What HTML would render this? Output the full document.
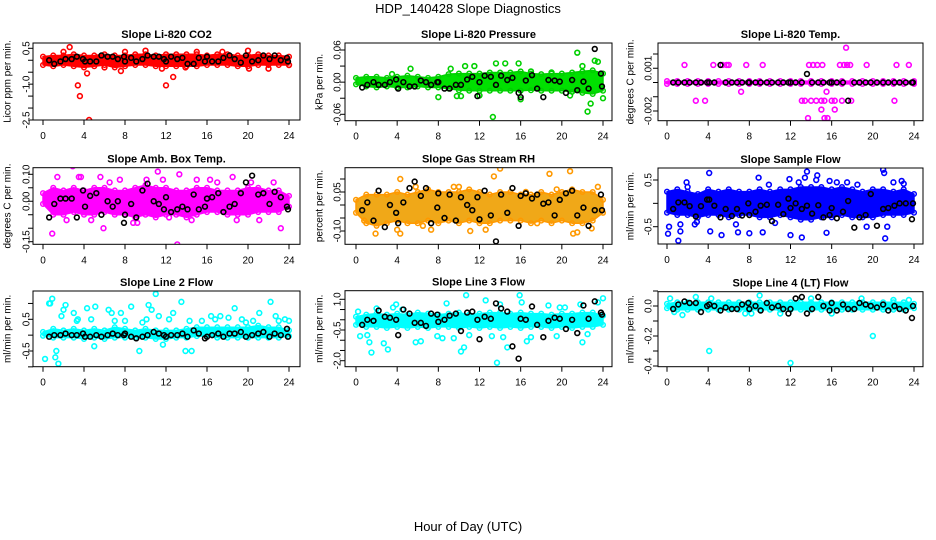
<!DOCTYPE html>
<html><head><meta charset="utf-8"><style>
body{margin:0;background:#fff;}
svg{display:block;font-family:"Liberation Sans",sans-serif;}
</style></head><body>
<svg id="c" width="936" height="540">
<text x="468" y="13" text-anchor="middle" font-size="13">HDP_140428  Slope Diagnostics</text>
<text x="468" y="531" text-anchor="middle" font-size="13">Hour of Day (UTC)</text>
</svg>
<script>
const xTicks=[0,4,8,12,16,20,24];
const bandX=[0,1,2,3,4,5,6,7,8,9,10,11,12,13,14,15,16,17,18,19,20,21,22,23,24];
const blackX=[0.6,1.1,1.7,2.2,2.8,3.3,3.9,4.1,4.6,5.2,5.7,6.3,6.8,7.3,7.9,8.0,8.6,9.1,9.7,10.2,10.8,11.3,11.8,12.0,12.5,13.1,13.6,14.1,14.7,15.2,15.8,16.0,16.5,17.1,17.6,18.2,18.7,19.3,19.8,20.4,21.0,21.5,22.1,22.6,23.2,23.8,23.9];

// CO2
const co2Hi=[0.15,0.2,0.2,0.25,0.2,0.2,0.25,0.2,0.2,0.25,0.25,0.2,0.25,0.25,0.25,0.25,0.2,0.25,0.25,0.2,0.2,0.25,0.2,0.2,0.15];
const co2Lo=[-0.2,-0.25,-0.2,-0.25,-0.3,-0.25,-0.2,-0.3,-0.25,-0.2,-0.2,-0.25,-0.25,-0.25,-0.25,-0.25,-0.2,-0.2,-0.2,-0.25,-0.25,-0.2,-0.2,-0.2,-0.2];
const co2OutX=[2.6,2.0,3.4,3.6,4.3,4.5,12.0,12.7,11.6,7.6,6.0,20.0,20.1,22.0,13.9,8.0,10.0,15.0,17.5,24.0];
const co2OutY=[0.55,0.35,-1.05,-1.5,-0.55,-2.5,-1.05,-0.7,-0.35,-0.45,-0.3,0.4,-0.35,-0.35,-0.3,0.35,0.4,0.35,0.35,-0.2];
const co2Black=[0,-0.15,-0.05,0.05,0.05,0.15,0.05,-0.05,-0.05,-0.05,0.2,0.15,0.15,0.05,0.15,-0.05,0.1,-0.05,0.05,0.2,0.15,0.15,0.05,-0.05,0.15,0.05,0.1,-0.15,-0.15,0.1,-0.05,0.15,-0.05,-0.05,0.1,0.2,0.05,-0.1,0.2,-0.05,0.0,0.2,0.05,0.2,0.0,0.1,-0.05];
// Pressure
const prHi=[0.008,0.01,0.01,0.008,0.01,0.012,0.01,0.008,0.01,0.015,0.016,0.016,0.016,0.018,0.018,0.018,0.02,0.016,0.015,0.016,0.016,0.018,0.02,0.022,0.016];
const prLo=[-0.004,-0.008,-0.01,-0.008,-0.01,-0.01,-0.008,-0.01,-0.01,-0.012,-0.015,-0.016,-0.016,-0.016,-0.016,-0.016,-0.016,-0.015,-0.016,-0.016,-0.016,-0.018,-0.02,-0.022,-0.016];
const prOutX=[21.5,22.5,22.8,13.3,8.0,9.2,10.6,14.5,15.8,23.2,23.5,24.0,16.0,10.2,5.3,3.5,11.5,12.0,17.0,19.0,20.8,22.0,9.8,13.6];
const prOutY=[0.055,-0.055,-0.04,-0.065,-0.028,0.025,0.03,0.035,0.035,0.04,0.038,-0.03,-0.032,-0.026,0.025,0.015,0.03,-0.025,0.02,0.018,-0.025,0.03,-0.026,0.035];
const prBlack=[-0.01,-0.005,0,-0.005,-0.005,0,0.005,-0.012,0,-0.008,-0.008,0.003,0,-0.005,0,0,-0.012,-0.012,-0.005,-0.005,0.005,0.01,-0.026,0,0.012,0.01,-0.005,0.012,0.004,0.008,-0.02,-0.028,0.003,0.013,-0.012,-0.028,0.004,0.003,0.001,-0.02,0.004,-0.015,0.001,-0.012,0.062,0.016,-0.008];
// Temp
const tpHi=[0.0001,0.0001,0.0001,0.0001,0.0001,0.0001,0.0001,0.0001,0.0001,0.0001,0.0001,0.0001,0.0001,0.0001,0.0001,0.0001,0.0001,0.0001,0.0001,0.0001,0.0001,0.0001,0.0001,0.0001,0.0001];
const tpLo=[-0.0001,-0.0001,-0.0001,-0.0001,-0.0001,-0.0001,-0.0001,-0.0001,-0.0001,-0.0001,-0.0001,-0.0001,-0.0001,-0.0001,-0.0001,-0.0001,-0.0001,-0.0001,-0.0001,-0.0001,-0.0001,-0.0001,-0.0001,-0.0001,-0.0001];
const tpOutX=[1.7,4.5,5.4,5.8,6.0,7.7,9.3,13.8,14.2,14.6,15.1,16.8,17.2,17.5,17.8,19.4,22.3,23.5,17.4,7.2,15.5,2.8,3.7,13.1,13.4,14.0,14.5,15.0,15.3,16.0,16.3,17.0,17.9,22.1,15.0,16.3,13.7,15.3,15.6];
const tpOutY=[0.00123,0.00123,0.00123,0.00123,0.00123,0.00123,0.00123,0.00123,0.00123,0.00123,0.00123,0.00123,0.00123,0.00123,0.00123,0.00123,0.00123,0.00123,0.00244,-0.00065,-0.00065,-0.00128,-0.00128,-0.00128,-0.00128,-0.00128,-0.00128,-0.00128,-0.00128,-0.00128,-0.00128,-0.00128,-0.00128,-0.00128,-0.0019,-0.0019,-0.0025,-0.0025,-0.0025];
const tpBlack=[0,0,0,0,0,0,0,0,0,0.00123,0,0,0,0,0,0,0,0,0,0,0,0,0,0,0,0,0.0006,0,0,0,0,0,0,0,-0.00128,0,0,0,0,0,0,0,0,0,0,0,0];
// Amb temp
const amHi=[0.03,0.05,0.04,0.05,0.04,0.05,0.05,0.04,0.04,0.05,0.06,0.05,0.05,0.04,0.04,0.05,0.05,0.04,0.04,0.04,0.05,0.05,0.04,0.04,0.02];
const amLo=[-0.01,-0.05,-0.05,-0.04,-0.05,-0.05,-0.04,-0.05,-0.05,-0.06,-0.05,-0.06,-0.05,-0.05,-0.06,-0.05,-0.04,-0.04,-0.05,-0.05,-0.05,-0.04,-0.04,-0.04,-0.02];
const amOutX=[0.9,1.4,2.9,3.5,3.7,5.6,5.9,8.8,9.2,11.2,11.7,13.1,13.3,15.0,18.5,18.9,22.5,23.2,4.7,7.5,10.1,12.3,14.5,16.3,20.3,21.1,2.3,6.5,17.0];
const amOutY=[-0.12,0.09,0.13,0.09,0.09,0.09,-0.1,-0.08,-0.08,0.11,0.08,-0.16,0.1,0.08,0.09,-0.07,0.07,-0.10,-0.07,0.08,0.08,-0.06,-0.07,0.08,0.07,-0.07,-0.07,0.07,0.07];
const amBlack=[-0.06,-0.01,0.01,0.01,0.01,-0.06,0.04,-0.02,0.02,0.03,-0.05,0.0,-0.02,0.0,-0.08,-0.05,-0.01,-0.06,0.04,0.065,0.0,-0.01,-0.03,0.015,-0.04,-0.03,-0.02,-0.03,0.025,-0.03,-0.02,0.01,0.015,0.03,-0.04,-0.02,-0.01,0.03,0.07,0.095,0.025,0.03,-0.01,0.035,0.015,-0.02,-0.03];
// RH
const rhHi=[0.02,0.04,0.04,0.04,0.05,0.04,0.05,0.06,0.05,0.05,0.05,0.06,0.05,0.04,0.05,0.05,0.04,0.04,0.05,0.04,0.05,0.06,0.05,0.05,0.02];
const rhLo=[-0.03,-0.07,-0.08,-0.07,-0.06,-0.07,-0.07,-0.06,-0.07,-0.06,-0.07,-0.06,-0.07,-0.07,-0.06,-0.06,-0.06,-0.07,-0.06,-0.07,-0.06,-0.07,-0.07,-0.06,-0.03];
const rhOutX=[1.9,4.0,4.3,5.8,7.3,11.1,12.6,13.4,14.0,17.6,18.8,20.8,21.1,21.5,22.9,4.3,6.5,9.5,16.5,19.5,23.5,0.8,10.0];
const rhOutY=[-0.11,-0.095,-0.11,0.07,-0.095,-0.10,-0.095,0.11,0.14,-0.07,0.12,0.13,-0.11,-0.105,-0.09,0.1,-0.08,0.07,0.05,0.06,0.07,-0.06,0.07];
const rhBlack=[-0.02,0.01,-0.06,0.055,-0.085,0,-0.03,-0.07,0.01,0.065,0.09,0.035,0.065,-0.07,-0.01,0.045,-0.05,0.04,-0.06,0.03,0.0,-0.02,0.03,-0.055,0.055,-0.04,-0.14,0.04,-0.03,0.065,-0.08,0.035,0.045,0.025,0.04,0.005,0.01,-0.04,0.02,0.045,0.055,-0.04,-0.01,-0.08,-0.02,0.04,-0.02];
// Sample flow
const sfHi=[0.25,0.3,0.25,0.2,0.3,0.25,0.3,0.25,0.25,0.3,0.25,0.3,0.3,0.35,0.35,0.35,0.3,0.35,0.3,0.25,0.3,0.3,0.25,0.3,0.2];
const sfLo=[-0.2,-0.25,-0.25,-0.3,-0.25,-0.25,-0.3,-0.25,-0.25,-0.3,-0.3,-0.25,-0.3,-0.35,-0.35,-0.3,-0.3,-0.25,-0.3,-0.3,-0.3,-0.25,-0.25,-0.25,-0.2];
const sfOutX=[0.1,0.2,1.1,1.3,1.3,1.9,2.7,2.9,4.1,4.2,5.3,6.9,8.0,8.9,9.3,11.9,12.0,13.1,13.4,13.6,14.6,15.5,15.8,17.5,19.4,21.0,21.1,21.2,21.4,22.0,22.8,12.8,14.5,10.5,16.5,23.0,2.0,9.9,6.7,18.5];
const sfOutY=[-0.65,-0.5,-0.8,-0.45,-0.6,0.45,-0.45,-0.4,0.65,-0.6,-0.68,-0.62,-0.64,0.55,-0.62,0.52,-0.68,-0.73,0.55,0.68,0.6,-0.63,0.48,0.45,-0.5,0.72,0.65,-0.75,-0.5,0.45,0.48,0.45,0.5,-0.42,0.45,0.42,0.35,0.4,-0.45,0.4];
const sfBlack=[-0.12,0.02,0.02,-0.06,-0.28,-0.06,0.08,0.08,-0.05,-0.3,-0.12,-0.27,-0.12,-0.26,0.0,-0.25,-0.18,-0.05,-0.03,-0.38,-0.03,-0.23,0.1,-0.1,0.0,-0.12,-0.05,-0.22,-0.04,-0.3,-0.25,-0.1,-0.32,-0.18,0.05,-0.52,-0.3,-0.25,0.2,-0.48,-0.12,-0.1,-0.05,0.0,0.0,-0.34,0.0];
// Line 2 flow
const l2Hi=[0.1,0.2,0.15,0.2,0.15,0.2,0.15,0.25,0.2,0.15,0.2,0.15,0.15,0.15,0.2,0.25,0.25,0.25,0.25,0.25,0.25,0.3,0.25,0.25,0.15];
const l2Lo=[-0.02,-0.08,-0.08,-0.08,-0.12,-0.08,-0.12,-0.08,-0.08,-0.08,-0.08,-0.12,-0.12,-0.08,-0.08,-0.03,-0.03,-0.08,-0.08,-0.08,-0.08,-0.08,-0.08,-0.08,-0.03];
const l2OutX=[0.2,0.7,0.9,1.2,1.3,1.5,2.0,2.2,3.0,3.4,4.3,5.1,6.7,7.6,8.6,9.4,10.3,11.0,11.3,11.7,13.5,13.9,14.5,16.4,17.3,18.7,19.4,21.1,22.2,23.6,24.0,3.3,5.0,6.4,7.0,8.0,9.7,12.3,12.7,15.5,16.8,18.1,19.8,20.5,22.7,23.0,1.8,4.7,10.6,14.3,0.6,10.1];
const l2OutY=[-0.75,1.0,1.15,-0.7,-0.5,-0.9,0.8,0.95,0.7,0.5,0.85,0.9,0.7,0.7,0.9,-0.5,0.95,1.3,0.6,-0.3,1.05,-0.5,-0.5,0.6,0.6,0.85,0.5,0.7,1.05,0.5,0.45,0.45,-0.35,0.8,0.45,0.45,0.4,0.5,0.7,0.45,0.5,0.55,0.4,0.45,0.6,0.45,0.6,0.5,0.8,0.45,1.0,0.5];
const l2Black=[-0.05,0.0,0.0,0.05,0.0,0.0,0.05,-0.05,-0.05,0.0,-0.05,0.0,0.05,0.0,0.0,0.05,-0.05,-0.1,-0.05,0.0,0.1,0.05,0.0,-0.05,0.0,0.0,0.05,-0.05,0.15,0.05,-0.1,-0.05,0.0,0.05,-0.05,0.05,0.05,0.1,-0.05,0.0,0.05,0.1,-0.05,0.05,0.0,0.2,-0.05];
// Line 3 flow
const l3Hi=[0.15,0.25,0.3,0.25,0.3,0.25,0.35,0.3,0.25,0.3,0.35,0.25,0.3,0.35,0.35,0.3,0.35,0.3,0.3,0.25,0.3,0.3,0.35,0.35,0.2];
const l3Lo=[-0.25,-0.35,-0.35,-0.4,-0.35,-0.4,-0.35,-0.4,-0.35,-0.35,-0.4,-0.35,-0.4,-0.35,-0.4,-0.35,-0.4,-0.35,-0.35,-0.4,-0.35,-0.4,-0.35,-0.35,-0.25];
const l3OutX=[0.4,1.1,1.3,1.5,2.7,3.1,3.6,3.9,7.9,8.8,9.5,10.2,10.5,10.7,12.6,13.2,13.7,14.0,14.3,14.7,15.9,16.1,16.6,18.7,19.8,21.8,22.0,23.5,24.0,5.8,6.3,8.4,11.0,17.0,19.5,0.2,2.0,4.5,20.3,22.5];
const l3OutY=[-0.8,-0.75,-1.1,-1.6,-1.15,-1.45,0.6,0.75,-0.8,0.8,-0.9,-1.55,-1.35,1.2,0.95,-0.8,-2.1,0.75,-0.85,-1.35,1.2,0.85,-1.05,0.7,0.6,0.75,-1.1,0.85,1.05,-1.1,-1.05,-0.9,-0.75,-0.85,-0.8,0.4,0.55,0.5,0.6,-0.7];
const l3Black=[-0.25,0.0,-0.05,0.45,0.15,0.1,0.0,-0.75,0.5,0.3,-0.15,-0.15,-0.3,0.3,0.25,-0.1,0.0,0.2,0.3,-0.55,0.35,0.4,0.0,-0.95,0.15,0.05,0.8,0.55,0.4,-1.3,-1.9,0.05,0.0,0.65,-0.25,-0.85,-0.05,0.1,0.05,-0.45,0.0,-0.65,0.7,0.05,0.9,0.35,0.25];
// Line 4 flow
const l4Hi=[0.015,0.025,0.025,0.025,0.025,0.025,0.025,0.025,0.025,0.025,0.025,0.025,0.025,0.025,0.025,0.025,0.025,0.025,0.025,0.025,0.025,0.025,0.025,0.025,0.015];
const l4Lo=[-0.015,-0.025,-0.025,-0.025,-0.025,-0.025,-0.025,-0.025,-0.025,-0.025,-0.025,-0.025,-0.025,-0.025,-0.025,-0.025,-0.025,-0.025,-0.025,-0.025,-0.025,-0.025,-0.025,-0.025,-0.015];
const l4OutX=[0.3,0.7,1.5,2.8,4.1,4.3,7.6,8.2,9.0,11.0,12.0,20.0,18.9,16.0,14.0,22.0,23.5];
const l4OutY=[0.05,-0.04,-0.06,0.06,-0.3,0.05,-0.05,-0.05,0.07,-0.05,-0.38,-0.2,0.05,-0.05,0.05,0.04,0.04];
const l4Black=[-0.02,0.01,0.03,0.02,0.02,-0.04,0.0,0.01,0.0,-0.03,-0.01,-0.02,-0.02,0.01,0.02,-0.02,0.0,-0.03,0.02,-0.01,0.0,-0.02,-0.05,-0.02,0.05,0.06,-0.05,-0.02,0.06,0.0,-0.03,0.02,-0.03,0.01,-0.02,-0.02,0.02,0.01,0.0,-0.01,0.01,-0.03,0.0,-0.02,-0.03,-0.08,0.0];

const panels=[
 {name:'co2',title:'Slope Li-820 CO2',ylab:'Licor ppm per min.',col:'#ff0000',fill:'#ff0000',hi:co2Hi,lo:co2Lo,ox:co2OutX,oy:co2OutY,by:co2Black,
  box:[33,43,300,120],x0:43,x1:289,ticks:[0.5,0,-0.5,-1,-1.5,-2,-2.5],labels:{'0.5':'0.5','-1':'-1.0','-2.5':'-2.5'},ya:0.5,yapx:48.3,yb:-2.5,ybpx:120,ylx:8,ytx:27},
 {name:'pressure',title:'Slope Li-820 Pressure',ylab:'kPa per min.',col:'#00d000',fill:'#00e000',hi:prHi,lo:prLo,ox:prOutX,oy:prOutY,by:prBlack,
  box:[345,43,612,120.7],x0:356,x1:603,ticks:[0.06,0.03,0,-0.03,-0.06],labels:{'0.06':'0.06','0':'0.00','-0.06':'-0.06'},ya:0.06,yapx:50,yb:-0.06,ybpx:114.3,ylx:320,ytx:338},
 {name:'temp',title:'Slope Li-820 Temp.',ylab:'degrees C per min.',col:'#ff00ff',fill:'#ff00ff',hi:tpHi,lo:tpLo,ox:tpOutX,oy:tpOutY,by:tpBlack,
  box:[658,43,923,120.7],x0:667,x1:914,ticks:[0.002,0.001,0,-0.001,-0.002],labels:{'0.001':'0.001','-0.002':'-0.002'},ya:0.002,yapx:54,yb:-0.002,ybpx:111,ylx:631,ytx:649},
 {name:'amb-temp',title:'Slope Amb. Box Temp.',ylab:'degrees C per min.',col:'#ff00ff',fill:'#ff00ff',hi:amHi,lo:amLo,ox:amOutX,oy:amOutY,by:amBlack,
  box:[33,167.7,300,244.3],x0:43,x1:289,ticks:[0.1,0.05,0,-0.05,-0.1,-0.15],labels:{'0.1':'0.10','0':'0.00','-0.15':'-0.15'},ya:0.1,yapx:174.3,yb:-0.15,ybpx:241.7,ylx:8,ytx:27},
 {name:'rh',title:'Slope Gas Stream RH',ylab:'percent per min.',col:'#ff9900',fill:'#f0a818',hi:rhHi,lo:rhLo,ox:rhOutX,oy:rhOutY,by:rhBlack,
  box:[345,167.7,612,244.3],x0:356,x1:603,ticks:[0.1,0.05,0,-0.05,-0.1],labels:{'0.05':'0.05','-0.1':'-0.10'},ya:0.1,yapx:179,yb:-0.1,ybpx:231,ylx:320,ytx:338},
 {name:'sample-flow',title:'Slope Sample Flow',ylab:'ml/min per min.',col:'#0000ff',fill:'#0000ff',hi:sfHi,lo:sfLo,ox:sfOutX,oy:sfOutY,by:sfBlack,
  box:[658,168,923,244],x0:667,x1:914,ticks:[0.5,0,-0.5],labels:{'0.5':'0.5','-0.5':'-0.5'},ya:0.5,yapx:180,yb:-0.5,ybpx:226.7,ylx:631,ytx:649},
 {name:'line2-flow',title:'Slope Line 2 Flow',ylab:'ml/min per min.',col:'#00ffff',fill:'#00ffff',hi:l2Hi,lo:l2Lo,ox:l2OutX,oy:l2OutY,by:l2Black,
  box:[33,291,300,366.7],x0:43,x1:289,ticks:[1,0.5,0,-0.5,-1],labels:{'0.5':'0.5','-0.5':'-0.5'},ya:0.5,yapx:319.3,yb:-0.5,ybpx:351,ylx:8,ytx:27},
 {name:'line3-flow',title:'Slope Line 3 Flow',ylab:'ml/min per min.',col:'#00ffff',fill:'#00ffff',hi:l3Hi,lo:l3Lo,ox:l3OutX,oy:l3OutY,by:l3Black,
  box:[345,290.7,612,366.7],x0:356,x1:603,ticks:[1,0.5,0,-0.5,-1,-1.5,-2],labels:{'1':'1.0','-0.5':'-0.5','-2':'-2.0'},ya:1,yapx:299.3,yb:-2,ybpx:360.7,ylx:320,ytx:338},
 {name:'line4-flow',title:'Slope Line 4 (LT) Flow',ylab:'ml/min per min.',col:'#00ffff',fill:'#00ffff',hi:l4Hi,lo:l4Lo,ox:l4OutX,oy:l4OutY,by:l4Black,
  box:[658,291.7,923,366.7],x0:667,x1:914,ticks:[0.1,0,-0.1,-0.2,-0.3,-0.4],labels:{'0':'0.0','-0.2':'-0.2','-0.4':'-0.4'},ya:0,yapx:306,yb:-0.4,ybpx:366,ylx:631,ytx:649}
];
const NS='http://www.w3.org/2000/svg';
const svg=document.getElementById('c');
function mk(tag,attrs,parent){const e=document.createElementNS(NS,tag);for(const k in attrs)e.setAttribute(k,attrs[k]);(parent||svg).appendChild(e);return e;}
panels.forEach(p=>{
  const g=mk('g',{});
  
  
  const xs=v=>p.x0+(v/24)*(p.x1-p.x0);
  const ys=v=>p.yapx+(p.ya-v)*(p.ybpx-p.yapx)/(p.ya-p.yb);
  const [L,T,R,B]=p.box;
  const cl='clip-'+p.name;
  const cp=mk('clipPath',{id:cl},g);mk('rect',{x:L,y:T,width:R-L,height:B-T},cp);
  const plot=mk('g',{'clip-path':'url(#'+cl+')'},g);
  let pts=bandX.map((x,i)=>xs(x)+','+ys(p.hi[i])).concat(bandX.slice().reverse().map((x,j)=>{const i=bandX.length-1-j;return xs(x)+','+ys(p.lo[i]);})).join(' ');
  const band=mk('polygon',{points:pts,fill:p.fill,stroke:p.col,'stroke-width':1.5,'stroke-linejoin':'round'},plot);
  
  
  bandX.forEach((x,i)=>{
    [p.hi[i],p.lo[i]].forEach(v=>{
      const c=mk('circle',{cx:xs(x),cy:ys(v),r:2.3,fill:'none',stroke:p.col,'stroke-width':1.5},plot);
      
      
    });
  });
  p.ox.forEach((x,i)=>{
    const c=mk('circle',{cx:xs(x),cy:ys(p.oy[i]),r:2.4,fill:'none',stroke:p.col,'stroke-width':1.6},plot);
    
    
  });
  blackX.forEach((x,i)=>{
    const c=mk('circle',{cx:xs(x),cy:ys(p.by[i]),r:2.4,fill:'none',stroke:'#000','stroke-width':1.6},plot);
    
    
  });
  const fr=mk('rect',{x:L,y:T,width:R-L,height:B-T,fill:'none',stroke:'#000','stroke-width':1},g);
  
  
  const t=mk('text',{x:(L+R)/2,y:T-5,'text-anchor':'middle','font-size':11,'font-weight':'bold'},g);t.textContent=p.title;
  
  
  const yl=mk('text',{x:p.ylx,y:(T+B)/2,'text-anchor':'middle','font-size':10,transform:'rotate(-90 '+p.ylx+' '+((T+B)/2)+')','dominant-baseline':'middle'},g);yl.textContent=p.ylab;
  
  
  xTicks.forEach(v=>{
    mk('line',{x1:xs(v),x2:xs(v),y1:B,y2:B+5,stroke:'#000'},g);
    const tx=mk('text',{x:xs(v),y:B+19,'text-anchor':'middle','font-size':10},g);tx.textContent=v;
    
    
  });
  p.ticks.forEach(v=>{
    const y=ys(v);
    mk('line',{x1:L-5,x2:L,y1:y,y2:y,stroke:'#000'},g);
    const key=String(v);
    if(p.labels[key]!==undefined){
      const tx=mk('text',{x:p.ytx,y:y,'text-anchor':'middle','font-size':10,transform:'rotate(-90 '+p.ytx+' '+y+')','dominant-baseline':'middle'},g);tx.textContent=p.labels[key];
      
      
    }
  });
});
</script>
</body></html>
